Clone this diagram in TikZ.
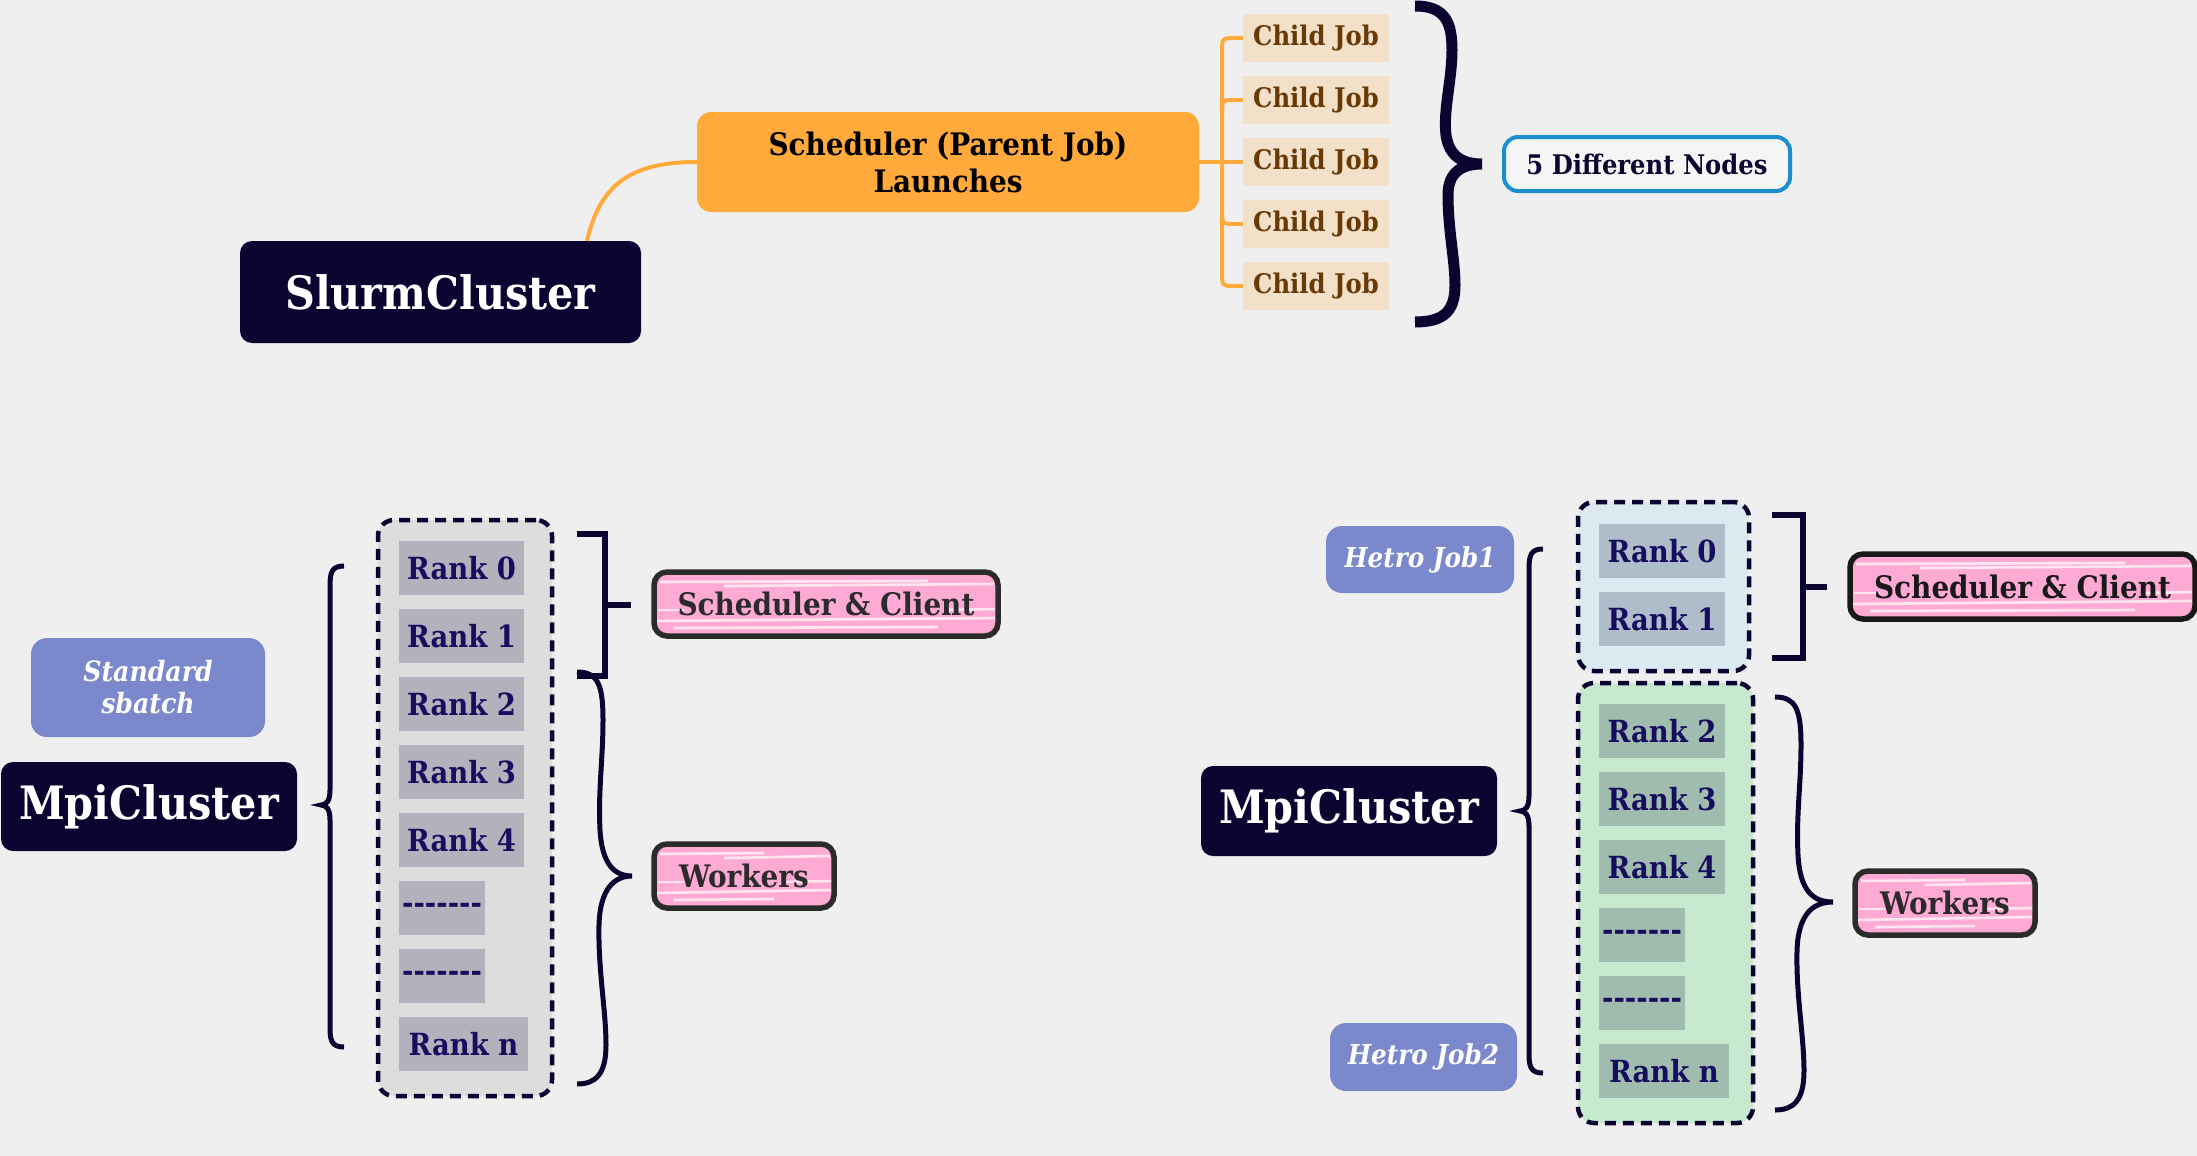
\documentclass[tikz,border=0pt]{standalone}
\usepackage{fontspec}
\setmainfont{DejaVu Serif Condensed}
\definecolor{bg}{HTML}{EFEFEF}
\definecolor{navy}{HTML}{0B0330}
\definecolor{orng}{HTML}{FFAA3B}
\definecolor{childfill}{HTML}{F2E0C8}
\definecolor{childtxt}{HTML}{6A3A06}
\definecolor{nodeblue}{HTML}{1A8FD0}
\definecolor{ranktxt}{HTML}{170D5E}
\definecolor{rankgrey}{HTML}{B3B1BB}
\definecolor{contgrey}{HTML}{DDDDDD}
\definecolor{contblue}{HTML}{DCE9F0}
\definecolor{rankblue}{HTML}{AFBCC9}
\definecolor{contgreen}{HTML}{C6E9CF}
\definecolor{rankgreen}{HTML}{A0BCAF}
\definecolor{pinkfill}{HTML}{FFAAD4}
\definecolor{lav}{HTML}{7B88CC}
\definecolor{darktxt}{HTML}{2B2B2B}
\newcommand{\fsz}[1]{\fontsize{#1}{#1}\selectfont\bfseries}
\newcommand{\dashrow}{-{}-{}-{}-{}-{}-{}-}
\tikzset{
  clusterbox/.style={fill=navy, text=white, rounded corners=12pt, inner sep=0pt, font=\fsz{46}},
  schedbox/.style={fill=orng, text=black, rounded corners=14pt, inner sep=0pt, align=center, font=\fontsize{31}{37}\selectfont\bfseries},
  childbox/.style={fill=childfill, text=childtxt, inner sep=0pt, minimum width=146pt, minimum height=48pt, font=\fsz{27}},
  diffbox/.style={draw=nodeblue, line width=4pt, fill=white!40!bg, text=navy, rounded corners=14pt, inner sep=0pt, font=\fsz{27}},
  lavbox/.style={fill=lav, text=white, rounded corners=16pt, inner sep=0pt, align=center, font=\fontsize{28}{32}\selectfont\bfseries\itshape},
  container/.style={draw=navy, line width=4.5pt, dash pattern=on 11pt off 7pt, rounded corners=16pt, inner sep=0pt},
  rankbox/.style={inner sep=0pt, text=ranktxt, minimum height=54pt, font=\fsz{30.5}},
  streak/.style={white, opacity=0.7, line width=2.6pt},
  pinkbox/.style={draw=#1, line width=5.5pt, rounded corners=13pt, fill=pinkfill, text=darktxt, inner sep=0pt, font=\fsz{31},
    path picture={
      \draw[streak] ([xshift=6pt,yshift=-10pt]path picture bounding box.north west) -- ([xshift=-70pt,yshift=-9pt]path picture bounding box.north east);
      \draw[streak] ([xshift=70pt,yshift=-14pt]path picture bounding box.north west) -- ([xshift=-4pt,yshift=-12pt]path picture bounding box.north east);
      \draw[streak] ([xshift=4pt,yshift=26pt]path picture bounding box.south west) -- ([xshift=30pt,yshift=26pt]path picture bounding box.south west);
      \draw[streak] ([xshift=-50pt,yshift=26pt]path picture bounding box.south east) -- ([xshift=-2pt,yshift=27pt]path picture bounding box.south east);
      \draw[streak] ([xshift=2pt,yshift=15pt]path picture bounding box.south west) -- ([xshift=-3pt,yshift=18pt]path picture bounding box.south east);
      \draw[streak] ([xshift=20pt,yshift=8pt]path picture bounding box.south west) -- ([xshift=-60pt,yshift=9pt]path picture bounding box.south east);
    }},
  pinkspill/.style={pinkfill, line width=3pt},
  orangeline/.style={orng, line width=4pt},
  bracesty/.style={navy, line width=5pt},
  bracketsty/.style={navy, line width=6pt},
}
\begin{document}
\begin{tikzpicture}[x=1pt,y=-1pt]
\useasboundingbox (0,0) rectangle (2197,1156);
\fill[bg] (0,0) rectangle (2197,1156);

% ---------------- top part ----------------
\node[clusterbox, minimum width=401pt, minimum height=102pt] (slurm) at (440.5,292) {SlurmCluster};
\node[schedbox, minimum width=502pt, minimum height=100pt] (sched) at (948,162) {Scheduler (Parent Job)\\Launches};
\foreach \i/\yy in {1/38,2/100,3/162,4/224,5/286}{
  \node[childbox] (c\i) at (1316,\yy) {Child Job};
}
\node[diffbox, minimum width=286pt, minimum height=54pt] (diff) at (1647,164) {5 Different Nodes};

\draw[orangeline] ([xshift=146.5pt]slurm.north) .. controls (600,185) and (630,162) .. (sched.west);
\draw[orangeline] (sched.east) -- (c3.west);
\draw[orangeline] (c1.west) -- (1236,38) .. controls (1222,38) .. (1222,52) -- (1222,272) .. controls (1222,286) .. (1236,286) -- (c5.west);
\draw[orangeline] (c2.west) -- (1236,100) .. controls (1222,100) .. (1222,114);
\draw[orangeline] (c4.west) -- (1236,224) .. controls (1222,224) .. (1222,210);

\draw[navy, line width=11pt]
  (1415,6) .. controls (1445,6) and (1452,22) .. (1452,50)
  .. controls (1452,80) and (1443,110) .. (1446,135)
  .. controls (1449,156) and (1462,164) .. (1482,164)
  .. controls (1462,164) and (1448,172) .. (1448,195)
  .. controls (1448,230) and (1455,260) .. (1455,285)
  .. controls (1455,310) and (1445,322) .. (1415,322);

% ---------------- bottom left ----------------
\node[lavbox, minimum width=234pt, minimum height=99pt] (std) at (148,687.5) {Standard\\sbatch};
\node[clusterbox, minimum width=296pt, minimum height=89pt] (mpiL) at (149,806.5) {MpiCluster};
\node[container, fill=contgrey, minimum width=174pt, minimum height=576pt] (contL) at (465,808) {};
\foreach \i/\yy in {0/568,1/636,2/704,3/772,4/840}{
  \node[rankbox, fill=rankgrey, minimum width=125pt] (rL\i) at (461.5,\yy) {Rank \i};
}
\node[rankbox, fill=rankgrey, minimum width=86pt] (rLd1) at (442,908) {\dashrow};
\node[rankbox, fill=rankgrey, minimum width=86pt] (rLd2) at (442,976) {\dashrow};
\node[rankbox, fill=rankgrey, minimum width=129pt] (rLn) at (463.5,1044) {Rank n};
\draw[pinkspill] (672,572) -- (720,574);
\draw[pinkspill] (672,844) -- (720,846);
\node[pinkbox=darktxt, minimum width=344pt, minimum height=64pt] (scL) at (826,604) {Scheduler \& Client};
\node[pinkbox=darktxt, minimum width=180pt, minimum height=64pt] (wkL) at (744,876) {Workers};

\draw[bracesty] (344,566) .. controls (332,566) and (330,572) .. (330,586) -- (330,790)
  .. controls (330,800) and (327,805) .. (321,805)
  .. controls (327,805) and (330,810) .. (330,820) -- (330,1028)
  .. controls (330,1041) and (332,1047) .. (344,1047);
\draw[bracketsty] (577,534) -- (605,534) -- (605,676) -- (577,676);
\draw[bracketsty] (605,605) -- (631,605);
\draw[bracesty] (577,672) .. controls (598,672) and (603,685) .. (603,720)
  .. controls (603,760) and (598,790) .. (600,830)
  .. controls (602,865) and (615,876) .. (632,876)
  .. controls (615,876) and (600,888) .. (599,925)
  .. controls (598,970) and (606,1010) .. (606,1045)
  .. controls (606,1075) and (595,1084) .. (577,1084);

% ---------------- bottom right ----------------
\node[lavbox, font=\fontsize{27.5}{32}\selectfont\bfseries\itshape, minimum width=188pt, minimum height=67pt] (hj1) at (1420,559.5) {Hetro Job1};
\node[lavbox, font=\fontsize{27.5}{32}\selectfont\bfseries\itshape, minimum width=187pt, minimum height=68pt] (hj2) at (1423.5,1057) {Hetro Job2};
\node[clusterbox, minimum width=296pt, minimum height=90pt] (mpiR) at (1349,811) {MpiCluster};
\node[container, fill=contblue, minimum width=171pt, minimum height=169pt] (contB) at (1663.5,586.5) {};
\node[container, fill=contgreen, minimum width=175pt, minimum height=440pt] (contG) at (1665.5,903) {};
\foreach \i/\yy in {0/551,1/619}{
  \node[rankbox, fill=rankblue, minimum width=126pt] (rR\i) at (1662,\yy) {Rank \i};
}
\foreach \i/\yy in {2/731,3/799,4/867}{
  \node[rankbox, fill=rankgreen, minimum width=126pt] (rR\i) at (1662,\yy) {Rank \i};
}
\node[rankbox, fill=rankgreen, minimum width=86pt] (rRd1) at (1642,935) {\dashrow};
\node[rankbox, fill=rankgreen, minimum width=86pt] (rRd2) at (1642,1003) {\dashrow};
\node[rankbox, fill=rankgreen, minimum width=130pt] (rRn) at (1664,1071) {Rank n};
\draw[pinkspill] (1868,554) -- (1916,556);
\draw[pinkspill] (1873,871) -- (1921,873);
\node[pinkbox=black!90, text=black!90, minimum width=345pt, minimum height=65pt] (scR) at (2022.5,586.5) {Scheduler \& Client};
\node[pinkbox=darktxt, minimum width=180pt, minimum height=64pt] (wkR) at (1945,903) {Workers};

\draw[bracesty] (1543,549) .. controls (1531,549) and (1529,555) .. (1529,569) -- (1529,796)
  .. controls (1529,806) and (1526,811) .. (1520,811)
  .. controls (1526,811) and (1529,816) .. (1529,826) -- (1529,1054)
  .. controls (1529,1067) and (1531,1073) .. (1543,1073);
\draw[bracketsty] (1772,515) -- (1803,515) -- (1803,658) -- (1772,658);
\draw[bracketsty] (1803,587) -- (1827,587);
\draw[bracesty] (1775,697) .. controls (1796,697) and (1801,710) .. (1801,745)
  .. controls (1801,785) and (1796,815) .. (1798,855)
  .. controls (1800,891) and (1813,902) .. (1833,902)
  .. controls (1813,902) and (1798,914) .. (1797,951)
  .. controls (1796,996) and (1804,1036) .. (1804,1071)
  .. controls (1804,1101) and (1793,1110) .. (1775,1110);
\end{tikzpicture}
\end{document}
